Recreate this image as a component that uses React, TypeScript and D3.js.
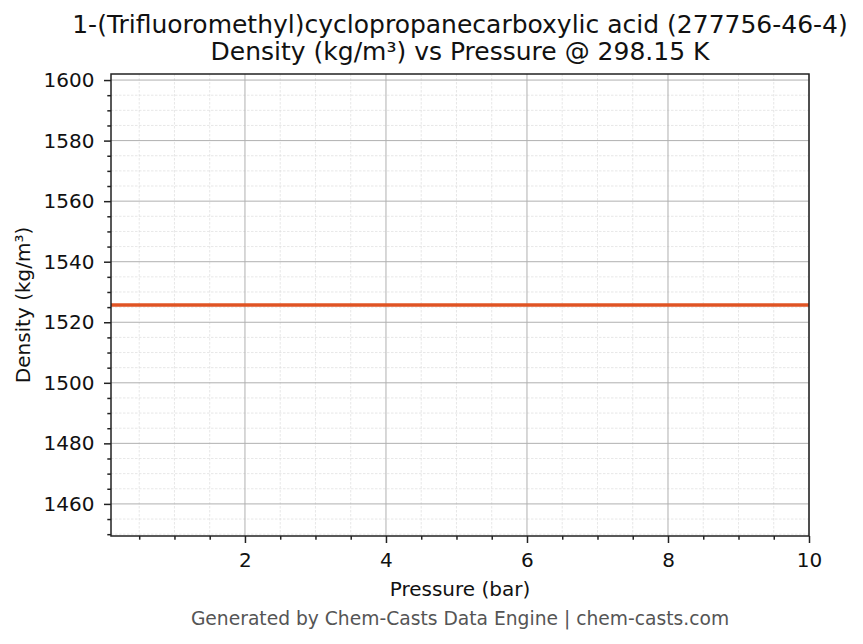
import { useEffect, useRef } from 'react';
import * as d3 from 'd3';

const pressureBar = [0.1, 2, 4, 6, 8, 10];
const densityKgM3 = [1525.7, 1525.7, 1525.7, 1525.7, 1525.7, 1525.7];
const xTicks = [2, 4, 6, 8, 10];
const yTicks = [1460, 1480, 1500, 1520, 1540, 1560, 1580, 1600];
const xDomain: [number, number] = [0.1, 10];
const yDomain: [number, number] = [1449.4, 1602.0];

const titleLines = ['1-(Trifluoromethyl)cyclopropanecarboxylic acid (277756-46-4)', 'Density (kg/m³) vs Pressure @ 298.15 K'];
const xLabel = 'Pressure (bar)';
const yLabel = 'Density (kg/m³)';
const footer = 'Generated by Chem-Casts Data Engine | chem-casts.com';

export default function App() {
  const ref = useRef<SVGSVGElement | null>(null);

  useEffect(() => {
    if (!ref.current) return;
    const width = 863;
    const height = 644;
    const margin = { top: 74, right: 54, bottom: 108, left: 111 };
    const innerWidth = width - margin.left - margin.right;
    const innerHeight = height - margin.top - margin.bottom;
    const font = 'DejaVu Sans, sans-serif';

    const root = d3.select(ref.current);
    root.selectAll('*').remove();
    root.attr('width', width).attr('height', height);
    root.append('rect').attr('width', width).attr('height', height).attr('fill', '#fff');

    const svg = root.append('g').attr('transform', `translate(${margin.left},${margin.top})`);

    const x = d3.scaleLinear().domain(xDomain).range([0, innerWidth]);
    const y = d3.scaleLinear().domain(yDomain).range([innerHeight, 0]);

    const xMinor = d3.range(0.5, 10.01, 0.5).filter(v => !xTicks.includes(v));
    const yMinor = d3.range(1450, 1602, 5).filter(v => !yTicks.includes(v));

    // minor grid
    svg
      .append('g')
      .selectAll('line')
      .data(xMinor)
      .join('line')
      .attr('x1', d => x(d))
      .attr('x2', d => x(d))
      .attr('y1', 0)
      .attr('y2', innerHeight)
      .attr('stroke', '#dcdcdc')
      .attr('stroke-width', 0.7)
      .attr('stroke-dasharray', '2.5,1.5');
    svg
      .append('g')
      .selectAll('line')
      .data(yMinor)
      .join('line')
      .attr('x1', 0)
      .attr('x2', innerWidth)
      .attr('y1', d => y(d))
      .attr('y2', d => y(d))
      .attr('stroke', '#dcdcdc')
      .attr('stroke-width', 0.7)
      .attr('stroke-dasharray', '2.5,1.5');

    // major grid
    svg
      .append('g')
      .selectAll('line')
      .data(xTicks)
      .join('line')
      .attr('x1', d => x(d))
      .attr('x2', d => x(d))
      .attr('y1', 0)
      .attr('y2', innerHeight)
      .attr('stroke', '#b0b0b0')
      .attr('stroke-width', 1);
    svg
      .append('g')
      .selectAll('line')
      .data(yTicks)
      .join('line')
      .attr('x1', 0)
      .attr('x2', innerWidth)
      .attr('y1', d => y(d))
      .attr('y2', d => y(d))
      .attr('stroke', '#b0b0b0')
      .attr('stroke-width', 1);

    const line = d3
      .line<number>()
      .x((_, i) => x(pressureBar[i]))
      .y(d => y(d));

    svg
      .append('path')
      .datum(densityKgM3)
      .attr('fill', 'none')
      .attr('stroke', '#e05424')
      .attr('stroke-width', 3.5)
      .attr('d', line);

    // axes
    const fmt = d3.format('d');
    const xAxis = svg
      .append('g')
      .attr('transform', `translate(0,${innerHeight})`)
      .call(d3.axisBottom(x).tickValues(xTicks).tickFormat(d => fmt(d as number)).tickSize(7).tickPadding(10).tickSizeOuter(0));
    const xMinorAxis = svg
      .append('g')
      .attr('transform', `translate(0,${innerHeight})`)
      .call(d3.axisBottom(x).tickValues(xMinor).tickSize(3.7).tickFormat(() => '').tickSizeOuter(0));
    const yAxis = svg
      .append('g')
      .call(d3.axisLeft(y).tickValues(yTicks).tickFormat(d => fmt(d as number)).tickSize(7).tickPadding(9.5).tickSizeOuter(0));
    const yMinorAxis = svg
      .append('g')
      .call(d3.axisLeft(y).tickValues(yMinor).tickSize(3.7).tickFormat(() => '').tickSizeOuter(0));

    [xAxis, xMinorAxis, yAxis, yMinorAxis].forEach(g => {
      g.select('.domain').remove();
      g.selectAll('line').attr('stroke', '#222').attr('stroke-width', 1.5);
      g.selectAll('text').attr('fill', '#111').attr('font-family', font).attr('font-size', 20);
    });

    svg
      .append('rect')
      .attr('width', innerWidth)
      .attr('height', innerHeight)
      .attr('fill', 'none')
      .attr('stroke', '#222')
      .attr('stroke-width', 1.5);

    // labels
    root
      .append('text')
      .attr('x', margin.left + innerWidth / 2)
      .attr('y', 596)
      .attr('text-anchor', 'middle')
      .attr('font-family', font)
      .attr('font-size', 20)
      .attr('fill', '#111')
      .text(xLabel);

    root
      .append('text')
      .attr('transform', `translate(30,${margin.top + innerHeight / 2}) rotate(-90)`)
      .attr('text-anchor', 'middle')
      .attr('font-family', font)
      .attr('font-size', 20)
      .attr('fill', '#111')
      .text(yLabel);

    titleLines.forEach((t, i) => {
      root
        .append('text')
        .attr('x', margin.left + innerWidth / 2)
        .attr('y', 33 + i * 27)
        .attr('text-anchor', 'middle')
        .attr('font-family', font)
        .attr('font-size', 25)
        .attr('fill', '#111')
        .text(t);
    });

    root
      .append('text')
      .attr('x', margin.left + innerWidth / 2)
      .attr('y', 625)
      .attr('text-anchor', 'middle')
      .attr('font-family', font)
      .attr('font-size', 18.7)
      .attr('fill', '#555')
      .text(footer);
  }, []);

  return <svg ref={ref} style={{ position: 'absolute', left: 0, top: 0, display: 'block' }} />;
}
